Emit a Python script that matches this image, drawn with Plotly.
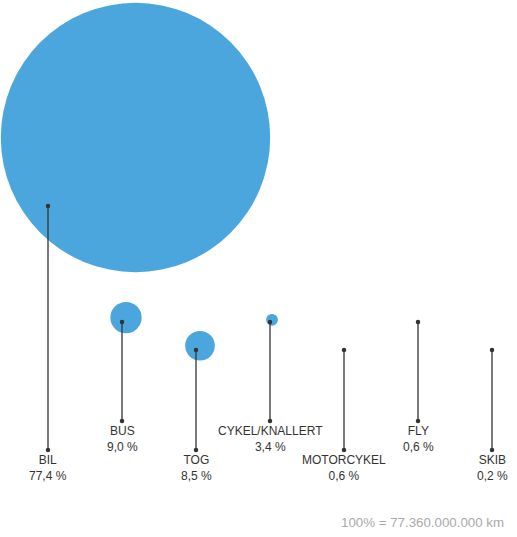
import plotly.graph_objects as go

#---Données
transport = ["BIL", "BUS", "TOG", "CYKEL/KNALLERT", "MOTORCYKEL", "FLY", "SKIB"]
andel = [77.4, 9.0, 8.5, 3.4, 0.6, 0.6, 0.2]  # % af personkm
total_txt = "100% = 77.360.000.000 km"

#---Mise en page (pixels)
W, H = 517, 537
x0, step = 48, 74
top_low, top_high, top_bil = 350, 322, 206   # y du point haut
bot_low, bot_high = 450, 421                  # y du point bas
px_per_pct = 3.48                             # diamètre de bulle par %
bubble_dx = [87.5, 4, 4, 2, 0.5, 0.5, 0.2]
bubble_dy = [-68.5, -4.4, -4.2, -2.2, -0.5, -0.5, -0.2]

blue = "#4BA6DD"
dark = "#333333"
font = "Liberation Sans, Arial, sans-serif"

xs, ytop, ybot = [], [], []
for i in range(len(transport)):
    xs.append(x0 + step * i)
    if i == 0:
        ytop.append(top_bil)
        ybot.append(bot_low)
    elif i % 2 == 0:
        ytop.append(top_low)
        ybot.append(bot_low)
    else:
        ytop.append(top_high)
        ybot.append(bot_high)

fig = go.Figure()

# bulles (diamètre proportionnel à la part)
fig.add_trace(go.Scatter(
    x=[x + dx for x, dx in zip(xs, bubble_dx)],
    y=[y + dy for y, dy in zip(ytop, bubble_dy)],
    mode="markers",
    marker=dict(size=[v * px_per_pct for v in andel], sizemode="diameter",
                color=blue, line=dict(width=0), opacity=1),
    hoverinfo="skip"))

# traits
lx, ly = [], []
for x, a, b in zip(xs, ytop, ybot):
    lx += [x, x, None]
    ly += [a, b, None]
fig.add_trace(go.Scatter(x=lx, y=ly, mode="lines",
                         line=dict(color=dark, width=1.3), hoverinfo="skip"))

# points aux extrémités
fig.add_trace(go.Scatter(x=xs + xs, y=ytop + ybot, mode="markers",
                         marker=dict(size=4.5, color=dark), hoverinfo="skip"))

# étiquettes (nom + part)
for t, v, x, b in zip(transport, andel, xs, ybot):
    pct = f"{v:.1f}".replace(".", ",") + " %"
    fig.add_annotation(x=x, y=b + 18, text=f"{t}<br>{pct}", showarrow=False,
                       xanchor="center", yanchor="middle", align="center",
                       font=dict(family=font, size=12, color=dark))

fig.add_annotation(x=506, y=522, text=total_txt, showarrow=False,
                   xanchor="right", yanchor="middle",
                   font=dict(family=font, size=13.3, color="#aaaaaa"))

fig.update_layout(width=W, height=H, autosize=False,
                  margin=dict(l=0, r=0, t=0, b=0),
                  paper_bgcolor="white", plot_bgcolor="white",
                  showlegend=False,
                  xaxis=dict(range=[0, W], visible=False, fixedrange=True),
                  yaxis=dict(range=[H, 0], visible=False, fixedrange=True))

fig.write_html("out.html", config={"displayModeBar": False},
               post_script="document.body.style.margin='0';")
